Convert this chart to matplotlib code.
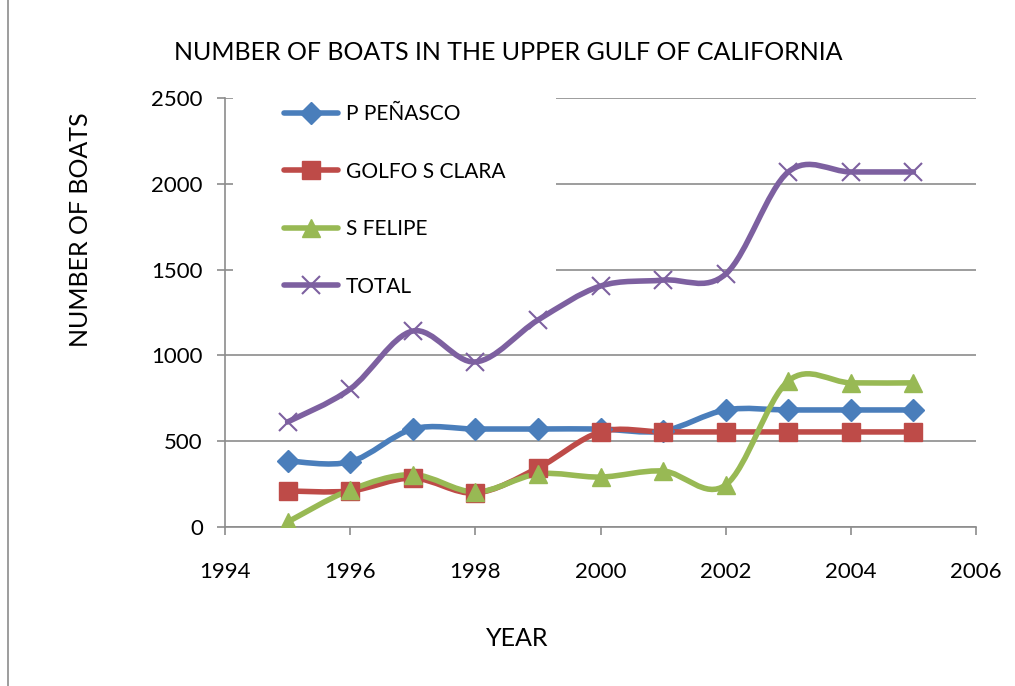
import matplotlib
matplotlib.use("Agg")
import matplotlib.pyplot as plt
from matplotlib.path import Path
from matplotlib.patches import PathPatch, Rectangle
import numpy as np

plt.rcParams['font.family'] = ['Lato', 'DejaVu Sans']

years = [1995, 1996, 1997, 1998, 1999, 2000, 2001, 2002, 2003, 2004, 2005]
p_penasco = [385, 380, 571, 571, 571, 571, 560, 682, 682, 682, 682]
golfo_s_clara = [210, 210, 285, 198, 344, 554, 554, 554, 554, 554, 554]
s_felipe = [29, 216, 305, 204, 309, 291, 326, 245, 851, 840, 840]
total = [612, 804, 1142, 962, 1206, 1404, 1439, 1474, 2069, 2069, 2069]

series = [
    ("P PEÑASCO", p_penasco, "#4a7ebb", "D", 11),
    ("GOLFO S CLARA", golfo_s_clara, "#be4b48", "s", 13),
    ("S FELIPE", s_felipe, "#98b954", "^", 13),
    ("TOTAL", total, "#7d60a0", "x", 13),
]


def smooth_path(x, y):
    """Cubic Bezier path through the points (Catmull-Rom style tangents)."""
    pts = np.column_stack([x, y]).astype(float)
    n = len(pts)
    verts = [pts[0]]
    codes = [Path.MOVETO]
    for i in range(n - 1):
        p0 = pts[i - 1] if i > 0 else pts[i]
        p1 = pts[i]
        p2 = pts[i + 1]
        p3 = pts[i + 2] if i + 2 < n else pts[i + 1]
        c1 = p1 + (p2 - p0) / 6.0
        c2 = p2 - (p3 - p1) / 6.0
        verts += [c1, c2, p2]
        codes += [Path.CURVE4] * 3
    return Path(verts, codes)


W, H = 1015, 686
fig = plt.figure(figsize=(W / 100, H / 100), dpi=100)
ax = fig.add_axes([225 / W, 1 - 527 / H, (976 - 225) / W, (527 - 98) / H])

for label, vals, color, marker, ms in series:
    patch = PathPatch(smooth_path(years, vals), facecolor='none', edgecolor=color,
                      lw=4, capstyle='round', joinstyle='round', zorder=3)
    ax.add_patch(patch)
    if marker == 'x':
        ax.plot(years, vals, linestyle='none', marker='x', ms=ms, mew=1.5,
                color=color, zorder=4)
    else:
        ax.plot(years, vals, linestyle='none', marker=marker, ms=ms,
                color=color, mec=color, zorder=4)

ax.set_xlim(1994, 2006)
ax.set_ylim(0, 2500)
ax.set_xticks(range(1994, 2007, 2))
ax.set_yticks(range(0, 2501, 500))
ax.yaxis.grid(True, color='#8c8c8c', lw=1.2)
ax.set_axisbelow(True)
for s in ['top', 'right']:
    ax.spines[s].set_visible(False)
for s in ['left', 'bottom']:
    ax.spines[s].set_color('#8c8c8c')
    ax.spines[s].set_linewidth(1.2)
ax.tick_params(axis='both', colors='#8c8c8c', labelcolor='black', labelsize=16,
               length=6, width=1.2, direction='out')
ax.tick_params(axis='y', pad=10)
ax.tick_params(axis='x', pad=19)

# White block behind the legend, hiding the gridlines there
ax.add_patch(Rectangle((233 / W, 1 - 300 / H), (556 - 233) / W, (300 - 88) / H,
                       transform=fig.transFigure, facecolor='white',
                       edgecolor='none', zorder=1, clip_on=False))

handles = []
for label, vals, color, marker, ms in series:
    if marker == 'x':
        h, = ax.plot([], [], color=color, lw=4, marker='x', ms=ms, mew=1.5,
                     solid_capstyle='round')
    else:
        h, = ax.plot([], [], color=color, lw=4, marker=marker, ms=ms,
                     solid_capstyle='round')
    handles.append(h)
leg = fig.legend(handles, [s[0] for s in series], loc='upper left',
                 bbox_to_anchor=(278 / W, 1 - 98 / H), frameon=False,
                 fontsize=15, handlelength=2.6, handletextpad=0.35,
                 labelspacing=1.8, borderpad=0.3, borderaxespad=0)

fig.text(508 / W, 1 - 52 / H, "NUMBER OF BOATS IN THE UPPER GULF OF CALIFORNIA",
         ha='center', va='center', fontsize=18)
fig.text(80 / W, 1 - 230 / H, "NUMBER OF BOATS", rotation=90,
         ha='center', va='center', fontsize=18)
fig.text(517 / W, 1 - 639 / H, "YEAR", ha='center', va='center', fontsize=18)

# Outer chart border
fig.patches.append(Rectangle((8 / W, -0.01), 1.2, 1.2, transform=fig.transFigure,
                             fill=False, edgecolor='#8c8c8c', lw=1.2))

fig.savefig("out.png", dpi=100)
